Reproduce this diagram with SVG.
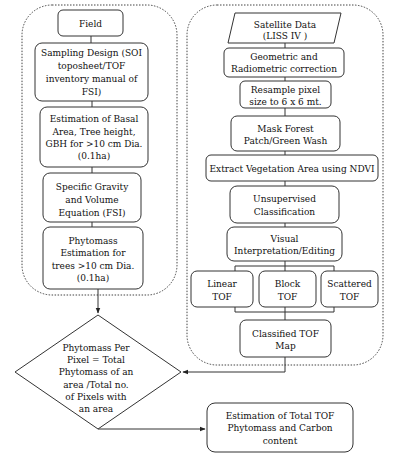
<svg xmlns="http://www.w3.org/2000/svg" width="419" height="461" viewBox="0 0 419 461">
<style>
.b{fill:#fff;stroke:#333;stroke-width:1}
.c{fill:none;stroke:#333;stroke-width:1}
.d{fill:none;stroke:#444;stroke-width:1;stroke-dasharray:1.5 1.5}
text{font-family:"DejaVu Serif Condensed","DejaVu Serif","Liberation Serif",serif;font-stretch:condensed;font-size:10px;fill:#111;text-anchor:middle}
</style>
<defs>
<marker id="ah" viewBox="0 0 10 10" refX="9" refY="5" markerWidth="6" markerHeight="6" orient="auto"><path d="M0,1 L10,5 L0,9 z" fill="#222"/></marker>
</defs>
<rect fill="#fff" width="419" height="461"/>
<g id="containers">
<rect class="d" x="22" y="5" width="155" height="290" rx="30"/>
<rect class="d" x="187" y="5" width="196" height="360" rx="30"/>
</g>
<g id="connectors">
<path class="c" d="M91,36V43M92,101V107M92,167V173M92,222V227"/>
<path class="c" d="M98,289V313" marker-end="url(#ah)"/>
<path class="c" d="M285,43V48M285,77V81M285,108V116M285,151V155M285,181V186M285,223V227"/>
<path class="c" d="M285,261V266M235,266H334M235,266V271M285,266V271M334,266V271"/>
<path class="c" d="M235,307V312M285,307V312M334,307V312M235,312H334M285,312V320"/>
<path class="c" d="M285,357V372H183" marker-end="url(#ah)"/>
<path class="c" d="M98,429H205" marker-end="url(#ah)"/>
</g>
<g id="field"><rect class="b" x="58" y="10" width="65" height="26" rx="5"/><text x="90.5" y="27">Field</text></g>
<g id="sampling"><rect class="b" x="35" y="43" width="113" height="58" rx="7"/><text x="91.5" y="56">Sampling Design (SOI</text><text x="91.5" y="69">toposheet/TOF</text><text x="91.5" y="82">inventory manual of</text><text x="91.5" y="95">FSI)</text></g>
<g id="basal"><rect class="b" x="40" y="107" width="108" height="60" rx="7"/><text x="94" y="122">Estimation of Basal</text><text x="94" y="135">Area, Tree height,</text><text x="94" y="147">GBH for &gt;10 cm Dia.</text><text x="94" y="159">(0.1ha)</text></g>
<g id="gravity"><rect class="b" x="43" y="173" width="98" height="49" rx="7"/><text x="92" y="190">Specific Gravity</text><text x="92" y="203">and Volume</text><text x="92" y="216">Equation (FSI)</text></g>
<g id="phyto"><rect class="b" x="43" y="227" width="100" height="62" rx="7"/><text x="93" y="244">Phytomass</text><text x="93" y="256">Estimation for</text><text x="93" y="269">trees &gt;10 cm Dia.</text><text x="93" y="281">(0.1ha)</text></g>
<g id="satellite"><path class="b" d="M235,13H341L334,43H228Z"/><text x="285" y="28">Satellite Data</text><text x="285" y="39">(LISS IV )</text></g>
<g id="geometric"><rect class="b" x="224" y="48" width="120" height="29" rx="5"/><text x="284" y="60">Geometric and</text><text x="284" y="72">Radiometric correction</text></g>
<g id="resample"><rect class="b" x="240" y="81" width="91" height="27" rx="5"/><text x="285.5" y="93">Resample pixel</text><text x="285.5" y="105">size to 6 x 6 mt.</text></g>
<g id="mask"><rect class="b" x="231" y="116" width="109" height="35" rx="6"/><text x="285.5" y="132">Mask Forest</text><text x="285.5" y="144">Patch/Green Wash</text></g>
<g id="extract"><rect class="b" x="206" y="155" width="172" height="26" rx="5"/><text x="292" y="172">Extract Vegetation Area using NDVI</text></g>
<g id="unsup"><rect class="b" x="230" y="186" width="109" height="37" rx="7"/><text x="284.5" y="202">Unsupervised</text><text x="284.5" y="215">Classification</text></g>
<g id="visual"><rect class="b" x="227" y="227" width="115" height="34" rx="7"/><text x="284.5" y="242">Visual</text><text x="284.5" y="254">Interpretation/Editing</text></g>
<g id="linear"><rect class="b" x="191" y="271" width="62" height="36" rx="6"/><text x="222" y="287">Linear</text><text x="222" y="300">TOF</text></g>
<g id="block"><rect class="b" x="259" y="271" width="57" height="36" rx="6"/><text x="287.5" y="287">Block</text><text x="287.5" y="300">TOF</text></g>
<g id="scattered"><rect class="b" x="321" y="271" width="57" height="36" rx="6"/><text x="349.5" y="287">Scattered</text><text x="349.5" y="300">TOF</text></g>
<g id="classified"><rect class="b" x="240" y="320" width="91" height="37" rx="6"/><text x="285.5" y="337">Classified TOF</text><text x="285.5" y="349">Map</text></g>
<g id="diamond"><path class="b" d="M98,315L181,372L98,429L15,372Z"/><text x="96" y="351">Phytomass Per</text><text x="96" y="363">Pixel = Total</text><text x="96" y="375">Phytomass of an</text><text x="96" y="388">area /Total no.</text><text x="96" y="400">of Pixels with</text><text x="96" y="412">an area</text></g>
<g id="total"><rect class="b" x="207" y="403" width="146" height="49" rx="8"/><text x="280" y="419">Estimation of Total TOF</text><text x="280" y="431">Phytomass and Carbon</text><text x="280" y="444">content</text></g>
</svg>
